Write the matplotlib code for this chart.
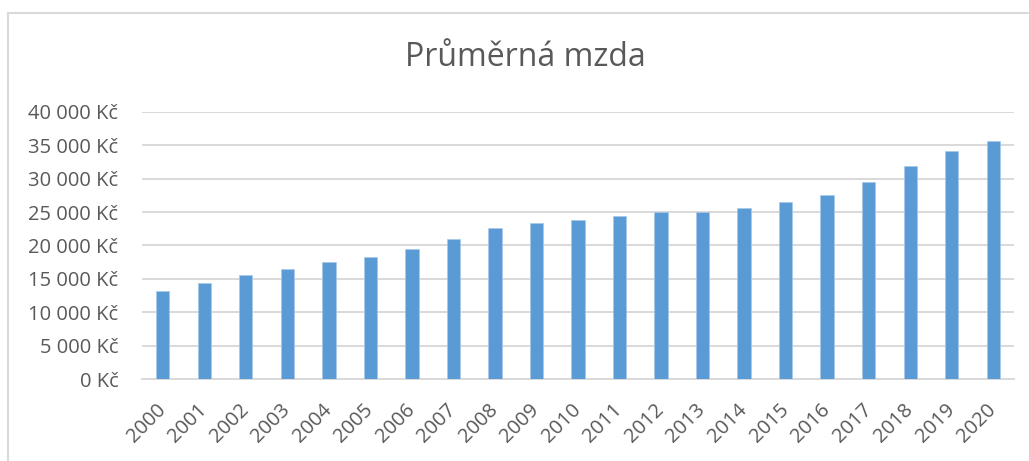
import numpy as np
import matplotlib.pyplot as plt
from matplotlib.lines import Line2D
from matplotlib.ticker import FuncFormatter, MultipleLocator

plt.rcParams['font.family'] = ['Open Sans', 'DejaVu Sans']

# average wage per year (CZK)
years = [str(y) for y in range(2000, 2021)]
wages = [13219, 14378, 15524, 16430, 17466, 18344, 19546, 20957, 22592, 23344,
         23864, 24455, 25067, 25035, 25686, 26467, 27589, 29504, 31885, 34125, 35611]

text_col = '#595959'
grid_col = '#d9d9d9'

fig = plt.figure(figsize=(10.29, 4.61), dpi=100)
ax = fig.add_axes([142 / 1029, 82 / 461, 872 / 1029, 267 / 461])

x = np.arange(len(years))
ax.bar(x, wages, width=0.32, color='#5b9bd5', edgecolor='#a9c9ea', linewidth=0.5, zorder=3)

ax.set_xlim(-0.5, len(years) - 0.5)
ax.set_ylim(0, 40000)
ax.yaxis.set_major_locator(MultipleLocator(5000))
ax.yaxis.set_major_formatter(FuncFormatter(lambda v, p: f"{int(v):,} Kč".replace(",", " ")))
ax.grid(axis='y', color=grid_col, linewidth=1.4, zorder=0)

ax.set_xticks(x)
ax.set_xticklabels(years, rotation=45, ha='right', va='center', rotation_mode='anchor')

for s in ['top', 'right', 'left']:
    ax.spines[s].set_visible(False)
ax.spines['bottom'].set_color(grid_col)
ax.spines['bottom'].set_linewidth(1.4)

ax.tick_params(axis='y', length=0, pad=17, labelsize=14.5, labelcolor=text_col)
ax.tick_params(axis='x', length=0, pad=20, labelsize=14.5, labelcolor=text_col)

fig.text(525 / 1029, 1 - 57 / 461, 'Průměrná mzda', ha='center', va='center',
         fontsize=23, color=text_col)

# chart area border (cropped on right and bottom)
bx = 8 / 1029
by = 1 - 13 / 461
fig.add_artist(Line2D([bx, bx], [0, by], transform=fig.transFigure, color=grid_col, linewidth=1.5))
fig.add_artist(Line2D([bx, 1], [by, by], transform=fig.transFigure, color=grid_col, linewidth=1.5))

fig.savefig('out.png', dpi=100)
